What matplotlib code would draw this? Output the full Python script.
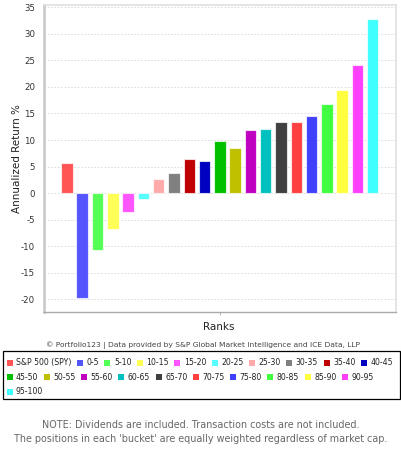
import numpy as np
import matplotlib.pyplot as plt
from matplotlib.patches import Rectangle

labels = ["S&P 500 (SPY)", "0-5", "5-10", "10-15", "15-20", "20-25", "25-30", "30-35",
          "35-40", "40-45", "45-50", "50-55", "55-60", "60-65", "65-70", "70-75",
          "75-80", "80-85", "85-90", "90-95", "95-100"]
returns = [5.6, -19.8, -10.7, -6.7, -3.5, -1.1, 2.65, 3.7, 6.4, 6.05, 9.8, 8.45,
           11.8, 12.1, 13.4, 13.4, 14.6, 16.8, 19.4, 24.1, 32.8]
colors = ["#ff5555", "#5555ff", "#55ff55", "#ffff55", "#ff55ff", "#55ffff", "#ffaaaa",
          "#808080", "#c00000", "#0000c0", "#00c000", "#c0c000", "#c000c0", "#00c0c0",
          "#404040", "#ff4040", "#4040ff", "#40ff40", "#ffff40", "#ff40ff", "#40ffff"]
yticks = np.arange(-20, 36, 5)
legend_rows = [10, 20, 21]  # index where each legend row ends

W, H = 401, 449
fig = plt.figure(figsize=(W / 100, H / 100), dpi=100)
ax = fig.add_axes([44 / W, 1 - 311.7 / H, 351.7 / W, 306.7 / H])

x = np.arange(len(returns))
ax.bar(x, returns, width=0.75, color=colors, edgecolor=(1, 1, 1, 0.7), linewidth=0.8, zorder=3)
ax.set_xlim(-1.5, 21.5)
ax.set_ylim(-22.3, 35.4)
ax.set_yticks(yticks)
ax.set_yticklabels([str(v) for v in yticks], fontsize=6.2, color="#333333")
ax.set_xticks([10])
ax.set_xticklabels([""])
ax.tick_params(axis="x", length=2, color="#bbbbbb")
ax.tick_params(axis="y", length=0, pad=6.5)
ax.grid(axis="y", color="#d8d8d8", linestyle=(0, (2, 2)), linewidth=0.6, zorder=0)
for s in ["top", "right"]:
    ax.spines[s].set_color("#e0e0e0")
    ax.spines[s].set_linewidth(1.2)
ax.spines["left"].set_color("#cccccc")
ax.spines["left"].set_linewidth(2)
ax.spines["bottom"].set_color("#aaaaaa")
ax.spines["bottom"].set_linewidth(1)
ax.set_ylabel("Annualized Return %", fontsize=7.5, color="#222222")
ax.yaxis.set_label_coords(-0.063, 0.5)

fig.text(219 / W, 1 - 327 / H, "Ranks", fontsize=7.5, color="#222222", ha="center", va="center")
fig.text(203 / W, 1 - 345 / H, "\u00a9 Portfolio123 | Data provided by S&P Global Market Intelligence and ICE Data, LLP",
         fontsize=5.4, color="#444444", ha="center", va="center")

# legend box
fig.patches.append(Rectangle((3.5 / W, 1 - 398.5 / H), 396.5 / W, 47.5 / H, transform=fig.transFigure,
                             fill=False, edgecolor="black", linewidth=0.9))
renderer = fig.canvas.get_renderer()
row_y = [362.5, 377, 391.5]
start = 0
for r, end in enumerate(legend_rows):
    px = 6.5
    for i in range(start, end):
        fig.patches.append(Rectangle((px / W, 1 - (row_y[r] + 3) / H), 6 / W, 6 / H,
                                     transform=fig.transFigure, facecolor=colors[i], edgecolor="none"))
        t = fig.text((px + 9.5) / W, 1 - row_y[r] / H, labels[i], fontsize=5.6, color="#222222",
                     ha="left", va="center")
        px += 9.5 + t.get_window_extent(renderer).width + 5.5
    start = end

fig.text(W / 2 / W, 1 - 425 / H, "NOTE: Dividends are included. Transaction costs are not included.",
         fontsize=6.9, color="#666666", ha="center", va="center")
fig.text(W / 2 / W, 1 - 439 / H, "The positions in each 'bucket' are equally weighted regardless of market cap.",
         fontsize=6.9, color="#666666", ha="center", va="center")

fig.savefig("out.png", dpi=100)
